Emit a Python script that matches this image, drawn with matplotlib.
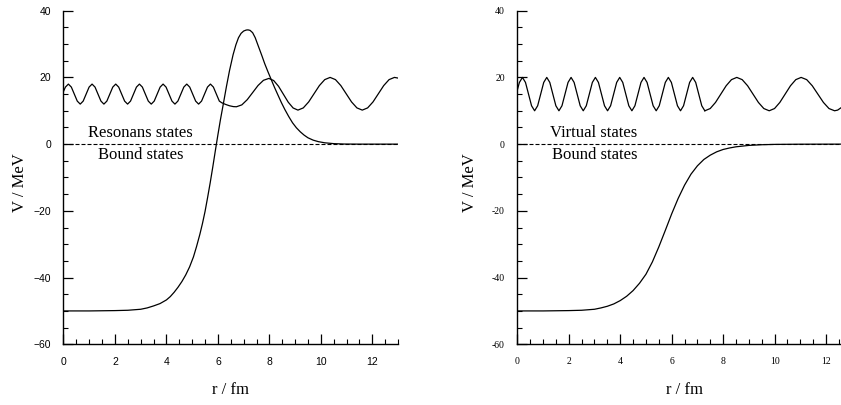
"""
Potential wells with a barrier (resonance) and without (virtual states),
with schematic scattering waves drawn above each well.
"""

import matplotlib
matplotlib.use("Agg")
import matplotlib.pyplot as plt
from matplotlib.ticker import MultipleLocator

SERIF = "Liberation Serif"
SANS = "Liberation Sans"
INK = "black"

# ---- left panel: well + barrier ------------------------------------------
r_barrier = [0.0, 1.0, 2.0, 2.5, 3.0, 3.25, 3.5, 3.75, 4.0, 4.15, 4.3, 4.45,
             4.6, 4.75, 4.9, 5.05, 5.17, 5.3, 5.4, 5.5, 5.6, 5.7, 5.8, 5.9,
             6.0, 6.1, 6.2, 6.33, 6.45, 6.59, 6.7, 6.8, 6.9, 7.0, 7.1, 7.17,
             7.25, 7.35, 7.45, 7.56, 7.7, 7.82, 7.95, 8.08, 8.2, 8.34, 8.47,
             8.6, 8.75, 8.9, 9.05, 9.2, 9.35, 9.5, 9.7, 9.9, 10.15, 10.5,
             10.9, 11.5, 13.0]
v_barrier = [-50.0, -50.0, -49.9, -49.8, -49.5, -49.1, -48.5, -47.8, -46.7,
             -45.7, -44.4, -42.9, -41.2, -39.2, -36.8, -33.8, -30.7, -27.0,
             -23.8, -20.2, -16.0, -11.6, -6.9, -2.0, 2.8, 7.4, 11.6, 17.2,
             22.0, 26.8, 29.8, 31.9, 33.2, 33.9, 34.2, 34.25, 34.1, 33.4,
             31.9, 29.6, 26.7, 24.1, 21.6, 19.2, 17.0, 14.6, 12.4, 10.4, 8.3,
             6.4, 4.9, 3.7, 2.7, 1.9, 1.2, 0.75, 0.4, 0.15, 0.03, 0.0, 0.0]

r_wave_res = [0.0, 0.075, 0.19, 0.305, 0.42, 0.535, 0.65, 0.765, 0.88, 0.995,
              1.11, 1.225, 1.34, 1.455, 1.57, 1.685, 1.80, 1.915,
              2.03, 2.145, 2.26, 2.375, 2.49, 2.605, 2.72, 2.835,
              2.95, 3.065, 3.18, 3.295, 3.41, 3.525, 3.64, 3.755,
              3.87, 3.985, 4.10, 4.215, 4.33, 4.445, 4.56, 4.675,
              4.79, 4.905, 5.02, 5.135, 5.25, 5.365, 5.48, 5.595,
              5.71, 5.825, 5.94, 6.055, 6.15,
              6.3, 6.45, 6.6, 6.72,
              6.93, 7.14, 7.35, 7.56, 7.77, 7.98,
              8.168, 8.357, 8.545, 8.733, 8.922, 9.11,
              9.318, 9.527, 9.735, 9.943, 10.152, 10.36,
              10.568, 10.777, 10.985, 11.193, 11.402, 11.61,
              11.818, 12.027, 12.235, 12.443, 12.652, 12.86, 13.0]
v_wave_res = [15.8, 17.1, 18.0, 17.1, 15.0, 12.9, 12.0, 12.9, 15.0, 17.1,
              18.0, 17.1, 15.0, 12.9, 12.0, 12.9, 15.0, 17.1,
              18.0, 17.1, 15.0, 12.9, 12.0, 12.9, 15.0, 17.1,
              18.0, 17.1, 15.0, 12.9, 12.0, 12.9, 15.0, 17.1,
              18.0, 17.1, 15.0, 12.9, 12.0, 12.9, 15.0, 17.1,
              18.0, 17.1, 15.0, 12.9, 12.0, 12.9, 15.0, 17.1,
              18.0, 17.1, 15.0, 12.9, 12.4,
              11.9, 11.5, 11.25, 11.2,
              11.77, 13.33, 15.45, 17.58, 19.13, 19.7,
              19.06, 17.33, 14.95, 12.57, 10.84, 10.2,
              10.86, 12.65, 15.1, 17.55, 19.34, 20.0,
              19.34, 17.55, 15.1, 12.65, 10.86, 10.2,
              10.86, 12.65, 15.1, 17.55, 19.34, 20.0, 19.8]

# ---- right panel: plain well ---------------------------------------------
r_well = [0.0, 1.0, 2.0, 2.5, 3.0, 3.25, 3.5, 3.75, 4.0, 4.25, 4.5, 4.75,
          5.0, 5.25, 5.5, 5.75, 6.0, 6.25, 6.5, 6.75, 7.0, 7.25, 7.5, 7.75,
          8.0, 8.25, 8.5, 9.0, 9.5, 10.0, 11.0, 12.6]
v_well = [-50.0, -50.0, -49.9, -49.8, -49.5, -49.1, -48.6, -47.9, -46.9,
          -45.6, -43.9, -41.7, -39.0, -35.3, -30.8, -25.9, -20.9, -16.3,
          -12.3, -9.0, -6.5, -4.6, -3.3, -2.3, -1.6, -1.15, -0.8, -0.38,
          -0.18, -0.08, -0.02, 0.0]

r_wave_in = [0.0, 0.082,
             0.200, 0.318, 0.436, 0.554, 0.673, 0.791, 0.909, 1.027,
             1.145, 1.263, 1.381, 1.499, 1.618, 1.736, 1.854, 1.972,
             2.090, 2.208, 2.326, 2.444, 2.563, 2.681, 2.799, 2.917,
             3.035, 3.153, 3.271, 3.389, 3.508, 3.626, 3.744, 3.862,
             3.980, 4.098, 4.216, 4.334, 4.453, 4.571, 4.689, 4.807,
             4.925, 5.043, 5.161, 5.279, 5.398, 5.516, 5.634, 5.752,
             5.870, 5.988, 6.106, 6.224, 6.343, 6.461, 6.579, 6.697,
             6.815, 6.933, 7.051, 7.169, 7.288]
v_wave_in = [16.2, 18.5,
             20.0, 18.5, 15.0, 11.5, 10.0, 11.5, 15.0, 18.5,
             20.0, 18.5, 15.0, 11.5, 10.0, 11.5, 15.0, 18.5,
             20.0, 18.5, 15.0, 11.5, 10.0, 11.5, 15.0, 18.5,
             20.0, 18.5, 15.0, 11.5, 10.0, 11.5, 15.0, 18.5,
             20.0, 18.5, 15.0, 11.5, 10.0, 11.5, 15.0, 18.5,
             20.0, 18.5, 15.0, 11.5, 10.0, 11.5, 15.0, 18.5,
             20.0, 18.5, 15.0, 11.5, 10.0, 11.5, 15.0, 18.5,
             20.0, 18.5, 15.0, 11.5, 10.0]

r_wave_out = [7.29, 7.497, 7.703, 7.91, 8.117, 8.323, 8.53,
              8.74, 8.95, 9.16, 9.37, 9.58, 9.79,
              9.997, 10.203, 10.41, 10.617, 10.823, 11.03,
              11.247, 11.463, 11.68, 11.897, 12.113, 12.33, 12.45, 12.58]
v_wave_out = [10.0, 10.67, 12.5, 15.0, 17.5, 19.33, 20.0,
              19.33, 17.5, 15.0, 12.5, 10.67, 10.0,
              10.67, 12.5, 15.0, 17.5, 19.33, 20.0,
              19.33, 17.5, 15.0, 12.5, 10.67, 10.0, 10.2, 10.9]

# ---- ticks -----------------------------------------------------------------
x_ticks = [0, 2, 4, 6, 8, 10, 12]
x_tick_labels = ["0", "2", "4", "6", "8", "10", "12"]
y_ticks = [-60, -40, -20, 0, 20, 40]
y_labels_sans = ["\u221260", "\u221240", "\u221220", "0", "20", "40"]
y_labels_serif = ["-60", "-40", "-20", "0", "20", "40"]


def _style_axes(ax, xmax, tick_font, tick_size, ylabels):
    ax.set_xlim(0, xmax)
    ax.set_ylim(-60, 40)
    for side in ("top", "right"):
        ax.spines[side].set_visible(False)
    for side in ("left", "bottom"):
        ax.spines[side].set_linewidth(1.0)
    ax.set_xticks(x_ticks, x_tick_labels)
    ax.set_yticks(y_ticks, ylabels)
    ax.xaxis.set_minor_locator(MultipleLocator(0.5))
    ax.yaxis.set_minor_locator(MultipleLocator(5))
    ax.tick_params(which="major", direction="in", length=7, width=0.9,
                   pad=9, labelsize=tick_size, colors=INK)
    ax.tick_params(which="minor", direction="in", length=3.5, width=0.8)
    for lab in ax.get_xticklabels() + ax.get_yticklabels():
        lab.set_fontfamily(tick_font)
    ax.axhline(0, color=INK, lw=0.8, ls=(0, (3.6, 1.8)), zorder=1)


fig = plt.figure(figsize=(8.41, 4.05), dpi=100)
ax1 = fig.add_axes([0.0755, 0.1499, 0.3978, 0.8237])
ax2 = fig.add_axes([0.6151, 0.1499, 0.3849, 0.8237])

_style_axes(ax1, 13.0, SANS, 7.5, y_labels_sans)
_style_axes(ax2, 12.58, SERIF, 7, y_labels_serif)

ax1.plot(r_barrier, v_barrier, color=INK, lw=0.9)
ax1.plot(r_wave_res, v_wave_res, color=INK, lw=0.9)
ax1.text(0.94, 3.2, "Resonans states", family=SERIF, fontsize=12,
         va="center", ha="left")
ax1.text(1.33, -3.3, "Bound states", family=SERIF, fontsize=12,
         va="center", ha="left")

ax2.plot(r_well, v_well, color=INK, lw=0.9)
ax2.plot(r_wave_in, v_wave_in, color=INK, lw=0.9)
ax2.plot(r_wave_out, v_wave_out, color=INK, lw=0.9)
ax2.text(1.27, 3.2, "Virtual states", family=SERIF, fontsize=12,
         va="center", ha="left")
ax2.text(1.34, -3.3, "Bound states", family=SERIF, fontsize=12,
         va="center", ha="left")

for ax, ylx, xlx in ((ax1, -0.13, 0.5), (ax2, -0.146, 0.518)):
    ax.set_xlabel("r / fm", family=SERIF, fontsize=12, va="center")
    ax.set_ylabel("V / MeV", family=SERIF, fontsize=12, va="center")
    ax.xaxis.set_label_coords(xlx, -0.137)
    ax.yaxis.set_label_coords(ylx, 0.485)

fig.savefig("out.png", dpi=100, facecolor="white")
plt.close(fig)
